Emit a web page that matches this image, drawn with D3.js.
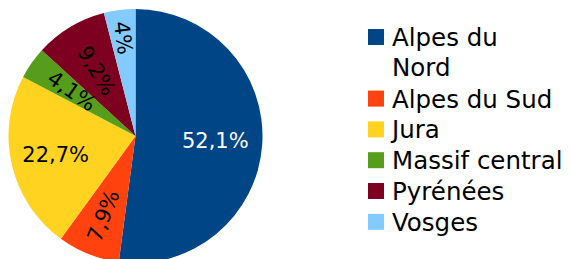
<!DOCTYPE html>
<html>
<head>
<meta charset="utf-8">
<script src="https://cdn.jsdelivr.net/npm/d3@7"></script>
<style>
  body { margin: 0; background: #fff; }
  svg { display: block; font-family: "DejaVu Sans", sans-serif; }
</style>
</head>
<body>
<svg id="chart"></svg>
<script>
// data
const regions = ["Alpes du Nord", "Alpes du Sud", "Jura", "Massif central", "Pyrénées", "Vosges"];
const shares = [52.1, 7.9, 22.7, 4.1, 9.2, 4.0];
const shareLabels = ["52,1%", "7,9%", "22,7%", "4,1%", "9,2%", "4%"];
const colors = ["#004586", "#ff420e", "#ffd320", "#579d1c", "#7e0021", "#83caff"];

const width = 571, height = 259;
const cx = 135.5, cy = 136, r = 127;
// label placement: distance from centre, and whether the label runs along the radius
const labelDist = [80, 86, 82, 78, 76, 99];
const radial = [false, true, false, true, true, true];

const svg = d3.select("#chart").attr("width", width).attr("height", height);

const pie = d3.pie().sort(null).value(d => d)(shares);
const arc = d3.arc().innerRadius(0).outerRadius(r);

const g = svg.append("g").attr("transform", `translate(${cx},${cy})`);

g.selectAll("path")
  .data(pie)
  .enter()
  .append("path")
  .attr("d", arc)
  .attr("fill", (d, i) => colors[i]);

g.selectAll("text")
  .data(pie)
  .enter()
  .append("text")
  .attr("transform", (d, i) => {
    const a = (d.startAngle + d.endAngle) / 2;
    const x = Math.sin(a) * labelDist[i];
    const y = -Math.cos(a) * labelDist[i];
    // inward direction, reading from rim toward centre
    const rot = radial[i] ? Math.atan2(Math.cos(a), -Math.sin(a)) * 180 / Math.PI : 0;
    return `translate(${x},${y}) rotate(${rot})`;
  })
  .attr("text-anchor", "middle")
  .attr("dominant-baseline", "central")
  .attr("font-size", 21)
  .attr("fill", (d, i) => i === 0 ? "#fff" : "#000")
  .text((d, i) => shareLabels[i]);

// legend
const legendItems = [
  { i: 0, lines: ["Alpes du", "Nord"] },
  { i: 1, lines: ["Alpes du Sud"] },
  { i: 2, lines: ["Jura"] },
  { i: 3, lines: ["Massif central"] },
  { i: 4, lines: ["Pyrénées"] },
  { i: 5, lines: ["Vosges"] }
];
const legend = svg.append("g").attr("transform", "translate(368,29)");
let yPos = 0;
legendItems.forEach(item => {
  const row = legend.append("g").attr("transform", `translate(0,${yPos})`);
  row.append("rect")
    .attr("width", 16).attr("height", 16)
    .attr("fill", colors[item.i]);
  const t = row.append("text")
    .attr("x", 24)
    .attr("y", 17)
    .attr("font-size", 24.5)
    .attr("fill", "#000");
  item.lines.forEach((ln, k) => {
    t.append("tspan").attr("x", 24).attr("dy", k === 0 ? 0 : 30).text(ln);
  });
  yPos += 30.8 * item.lines.length;
});
</script>
</body>
</html>
